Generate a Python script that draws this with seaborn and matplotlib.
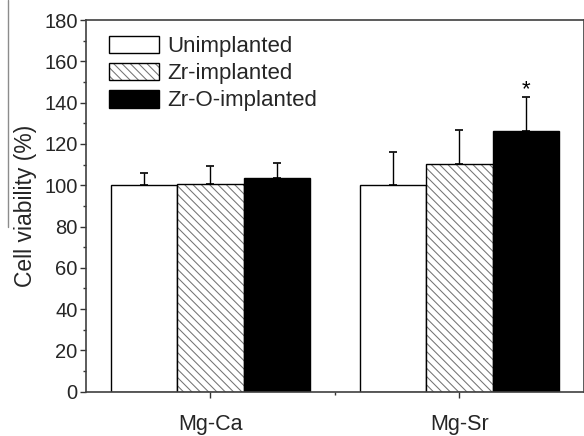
import matplotlib
matplotlib.use("Agg")
import matplotlib.pyplot as plt
import matplotlib.colors as mcolors
from matplotlib.lines import Line2D
from matplotlib.ticker import MultipleLocator, FixedLocator
import seaborn as sns
import pandas as pd

# Cell viability data
alloys = ["Mg-Ca", "Mg-Sr"]
groups = ["Unimplanted", "Zr-implanted", "Zr-O-implanted"]
viability_mgca = [100.0, 100.5, 103.3]
viability_mgsr = [100.0, 110.3, 126.4]
sd_mgca = [6.0, 8.8, 7.3]
sd_mgsr = [16.2, 16.3, 16.5]
significant = [("Mg-Sr", "Zr-O-implanted")]

rows = []
for alloy, vals, sds in [(alloys[0], viability_mgca, sd_mgca),
                         (alloys[1], viability_mgsr, sd_mgsr)]:
    for g, v, s in zip(groups, vals, sds):
        rows.append({"alloy": alloy, "group": g, "viability": v, "sd": s})
df = pd.DataFrame(rows)

sns.set_theme(style="ticks")
plt.rcParams["font.family"] = ["Liberation Sans", "DejaVu Sans"]
plt.rcParams["hatch.linewidth"] = 0.75

fig = plt.figure(figsize=(5.84, 4.36), dpi=100)
ax = fig.add_axes([0.147, 0.1016, 0.853, 0.8525])

sns.barplot(data=df, x="alloy", y="viability", hue="group",
            order=alloys, hue_order=groups, errorbar=None,
            width=0.8, ax=ax, legend=False)

faces = ["white", "white", "black"]
hatches = [None, "\\\\\\\\", None]
for cont, fc, h in zip(ax.containers, faces, hatches):
    for p in cont:
        p.set_facecolor(fc)
        p.set_edgecolor("black")
        p.set_linewidth(1.0)
        if h:
            p.set_hatch(h)
            p._hatch_color = mcolors.to_rgba("0.45")

# one-sided error bars on top of each bar
for cont, g in zip(ax.containers, groups):
    sub = df[df["group"] == g].set_index("alloy").loc[alloys]
    xs = [p.get_x() + p.get_width() / 2 for p in cont]
    ax.errorbar(xs, sub["viability"], yerr=[[0] * len(xs), sub["sd"]],
                fmt="none", ecolor="black", elinewidth=1.0,
                capsize=3, capthick=1.2, zorder=3)
    for alloy, x in zip(alloys, xs):
        if (alloy, g) in significant:
            top = sub.loc[alloy, "viability"] + sub.loc[alloy, "sd"]
            ax.text(x, top - 1.5, "*", ha="center", va="bottom",
                    fontsize=16, color="black")

ax.set_xlim(-0.5, 1.5)
ax.set_ylim(0, 180)
ax.yaxis.set_major_locator(MultipleLocator(20))
ax.yaxis.set_minor_locator(MultipleLocator(10))
ax.xaxis.set_minor_locator(FixedLocator([0.5]))
ax.tick_params(axis="both", which="major", direction="out", length=4,
               width=1.0, color="0.2", pad=2)
ax.tick_params(axis="both", which="minor", direction="out", length=2.5,
               width=1.0, color="0.2")
ax.tick_params(axis="y", which="major", labelsize=14.5)
ax.tick_params(axis="x", which="major", labelsize=15.5, pad=12)
ax.set_xlabel("")
ax.set_ylabel("Cell viability (%)", fontsize=16.5, labelpad=5)
for sp in ax.spines.values():
    sp.set_visible(True)
    sp.set_linewidth(1.2)
    sp.set_color("0.25")

handles = [cont[0] for cont in ax.containers]
ax.legend(handles, groups, loc="upper left", bbox_to_anchor=(0.046, 0.958),
          frameon=False, fontsize=16, handlelength=2.25, handleheight=0.85,
          labelspacing=0.25, handletextpad=0.36, borderpad=0, borderaxespad=0)

# thin border line on the left margin
fig.add_artist(Line2D([8 / 584, 8 / 584], [0.48, 1.0], transform=fig.transFigure,
                      color="0.55", linewidth=1.0))

fig.savefig("out.png", dpi=100)
